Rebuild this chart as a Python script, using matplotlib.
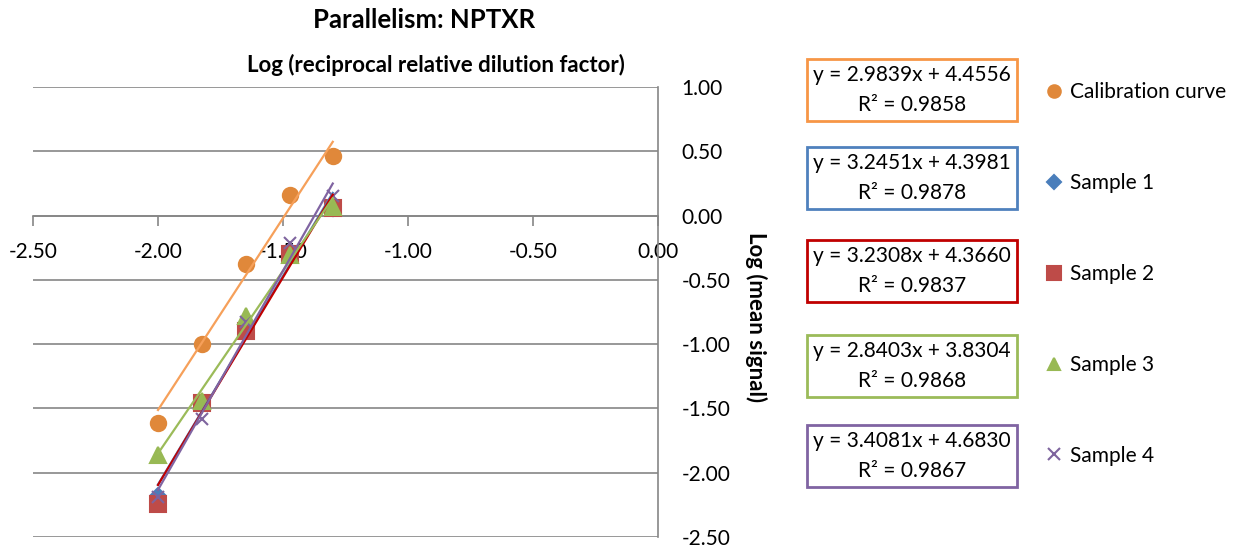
import matplotlib.pyplot as plt
from matplotlib.lines import Line2D

plt.rcParams["font.family"] = ["Lato", "DejaVu Sans"]

# log10 of the reciprocal relative dilution factor
dilution = [-2.00, -1.824, -1.648, -1.472, -1.301]

series = ["Calibration curve", "Sample 1", "Sample 2", "Sample 3", "Sample 4"]
calib = [-1.61, -1.00, -0.38, 0.16, 0.46]
sample1 = [-2.17, -1.45, -0.88, -0.30, 0.05]
sample2 = [-2.24, -1.46, -0.90, -0.30, 0.06]
sample3 = [-1.86, -1.44, -0.78, -0.31, 0.07]
sample4 = [-2.19, -1.58, -0.83, -0.21, 0.15]

slopes = [2.9839, 3.2451, 3.2308, 2.8403, 3.4081]
intercepts = [4.4556, 4.3981, 4.3660, 3.8304, 4.6830]
r2 = [0.9858, 0.9878, 0.9837, 0.9868, 0.9867]

marker_colors = ["#E0883A", "#4A7EBB", "#BE4B48", "#98B954", "#7E649E"]
line_colors = ["#F6A05A", "#4F81BD", "#C00000", "#9BBB59", "#8064A2"]
box_colors = ["#F79646", "#4F81BD", "#C00000", "#9BBB59", "#8064A2"]
markers = ["o", "D", "s", "^", "x"]
msizes = [11, 7, 11, 11, 9]
leg_sizes = [9, 7, 10, 9, 9]

W, H = 1233, 550
fig = plt.figure(figsize=(W / 100, H / 100), dpi=100)
ax = fig.add_axes([33 / W, 1 - 537 / H, (658 - 33) / W, (537 - 87) / H])

values = [calib, sample1, sample2, sample3, sample4]
handles = []
for i, ys in enumerate(values):
    ax.plot(dilution, ys, linestyle="none", marker=markers[i], ms=msizes[i],
            color=marker_colors[i], mew=1.5, zorder=3)
    # linear trendline over the data range
    x0, x1 = min(dilution), max(dilution)
    ax.plot([x0, x1], [slopes[i] * x0 + intercepts[i], slopes[i] * x1 + intercepts[i]],
            color=line_colors[i], lw=1.6, zorder=4)
    handles.append(Line2D([], [], linestyle="none", marker=markers[i],
                          ms=leg_sizes[i], color=marker_colors[i], mew=1.5))

ax.set_xlim(-2.5, 0)
ax.set_ylim(-2.5, 1.0)
ax.set_yticks([1.0, 0.5, 0.0, -0.5, -1.0, -1.5, -2.0, -2.5])
ax.set_xticks([-2.5, -2.0, -1.5, -1.0, -0.5, 0.0])
ax.set_xticklabels([f"{v:.2f}" for v in ax.get_xticks()])
ax.set_yticklabels([f"{v:.2f}" for v in ax.get_yticks()])
ax.grid(axis="y", color="#868686", lw=1.2)
ax.set_axisbelow(True)

for s in ["top", "left"]:
    ax.spines[s].set_visible(False)
ax.spines["bottom"].set_position(("data", 0))
ax.spines["bottom"].set_color("#868686")
ax.spines["bottom"].set_linewidth(1.2)
ax.spines["right"].set_color("#868686")
ax.spines["right"].set_linewidth(1.2)
ax.yaxis.tick_right()
ax.tick_params(axis="y", length=0, pad=17, labelsize=15)
ax.tick_params(axis="x", direction="out", length=7, color="#868686", width=1.2,
               pad=12, labelsize=15)

fig.text(424 / W, 1 - 20 / H, "Parallelism: NPTXR", ha="center", va="center",
         fontsize=18.5, fontweight="bold")
fig.text(436 / W, 1 - 65 / H, "Log (reciprocal relative dilution factor)",
         ha="center", va="center", fontsize=16, fontweight="bold")
fig.text(756 / W, 1 - 317 / H, "Log (mean signal)", ha="center", va="center",
         rotation=270, fontsize=16, fontweight="bold")

# trendline equation boxes
box_centers = [90, 178, 271, 366, 456]
for i in range(len(series)):
    txt = f"y = {slopes[i]:.4f}x + {intercepts[i]:.4f}\nR² = {r2[i]:.4f}"
    fig.text(912 / W, 1 - box_centers[i] / H, txt, ha="center", va="center",
             fontsize=15, linespacing=1.65,
             bbox=dict(boxstyle="square,pad=0.3", fc="white",
                       ec=box_colors[i], lw=2))

fig.legend(handles, series, loc="upper left", bbox_to_anchor=(1036 / W, 1 - 74 / H),
           frameon=False, fontsize=15, labelspacing=3.4, handlelength=0.9,
           handletextpad=0.35, borderaxespad=0)

fig.savefig("out.png", dpi=100)
